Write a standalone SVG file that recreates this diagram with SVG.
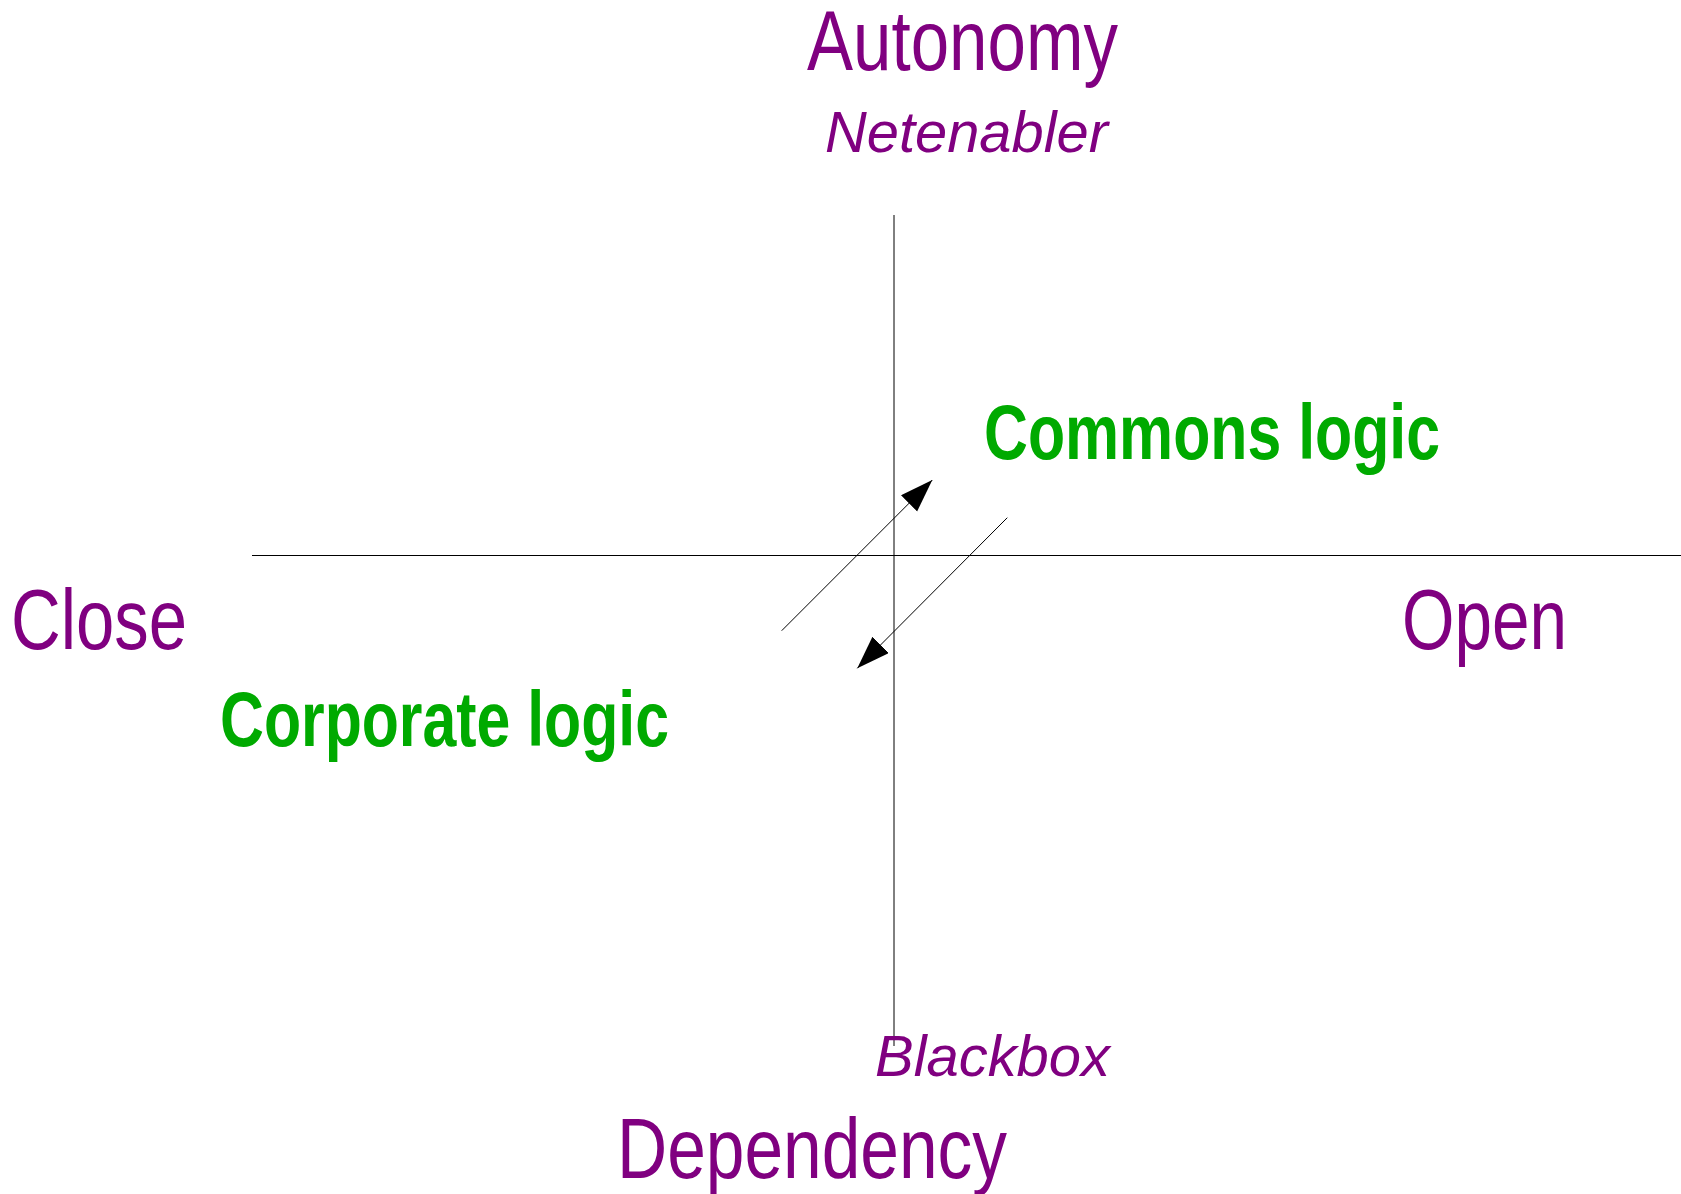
<svg xmlns="http://www.w3.org/2000/svg" width="1681" height="1194" viewBox="0 0 1681 1194">
<style>
.axis{stroke:#000;stroke-width:1;fill:none}
.arrow{stroke:#000;stroke-width:1;fill:none;marker-end:url(#head)}
.pole{font-family:"Liberation Sans",Arial,sans-serif;font-size:86px;fill:#800080}
.sub{font-family:"Liberation Sans",Arial,sans-serif;font-size:58px;font-style:italic;fill:#800080}
.logic{font-family:"Liberation Sans",Arial,sans-serif;font-size:78px;font-weight:bold;fill:#00aa00}
</style>
<defs>
<marker id="head" markerUnits="userSpaceOnUse" markerWidth="34" markerHeight="24" refX="33" refY="11.5" orient="auto">
<path d="M0,0 L33,11.5 L0,23 Z" fill="#000"/>
</marker>
</defs>
<rect width="1681" height="1194" fill="#fff"/>
<g id="connectors">
<line class="axis" x1="252" y1="555.5" x2="1681" y2="555.5"/>
<line class="axis" x1="894" y1="215" x2="894" y2="1046"/>
<line class="arrow" x1="781.7" y1="630.7" x2="932.3" y2="480"/>
<line class="arrow" x1="1007.3" y1="517.7" x2="857.3" y2="668.3"/>
</g>
<g id="autonomy"><text class="pole" x="807" y="70" textLength="311" lengthAdjust="spacingAndGlyphs">Autonomy</text></g>
<g id="netenabler"><text class="sub" x="825" y="152" textLength="283" lengthAdjust="spacingAndGlyphs">Netenabler</text></g>
<g id="close"><text class="pole" x="11" y="649" textLength="176" lengthAdjust="spacingAndGlyphs">Close</text></g>
<g id="open"><text class="pole" x="1402" y="649" textLength="165" lengthAdjust="spacingAndGlyphs">Open</text></g>
<g id="commons"><text class="logic" x="984" y="459" textLength="456" lengthAdjust="spacingAndGlyphs">Commons logic</text></g>
<g id="corporate"><text class="logic" x="220" y="746" textLength="449" lengthAdjust="spacingAndGlyphs">Corporate logic</text></g>
<g id="blackbox"><text class="sub" x="875" y="1076" textLength="235" lengthAdjust="spacingAndGlyphs">Blackbox</text></g>
<g id="dependency"><text class="pole" x="617" y="1178" textLength="390" lengthAdjust="spacingAndGlyphs">Dependency</text></g>
</svg>
